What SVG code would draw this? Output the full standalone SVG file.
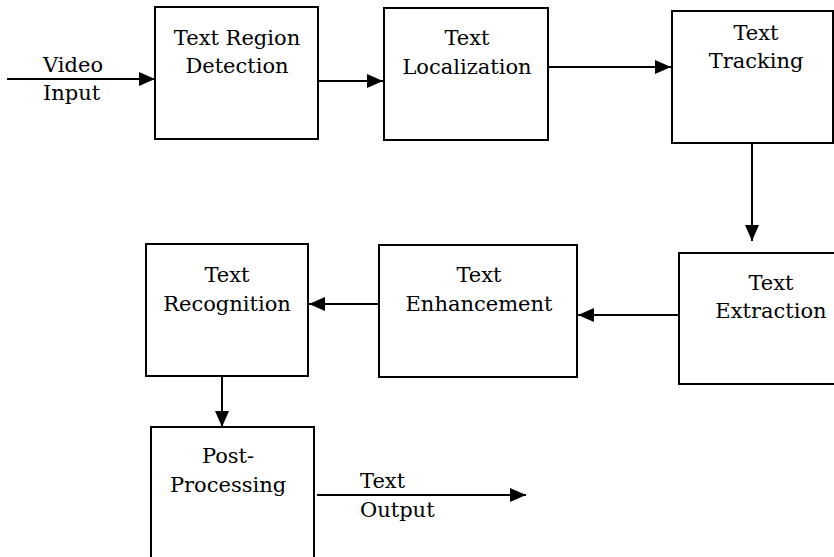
<svg xmlns="http://www.w3.org/2000/svg" width="834" height="557" viewBox="0 0 834 557">
<defs>
<marker id="ah" markerWidth="16" markerHeight="14" refX="16" refY="7" orient="auto" markerUnits="userSpaceOnUse">
<path d="M0,0 L16,7 L0,14 Z" fill="#000"/>
</marker>
<style>
.box{fill:#fff;stroke:#000;stroke-width:2}
text{font-family:'DejaVu Serif','Liberation Serif',serif;font-size:21px;fill:#000}
.lbl{text-anchor:middle}
.c{stroke:#000;stroke-width:2;fill:none;marker-end:url(#ah)}
</style>
</defs>
<rect width="834" height="557" fill="#fff"/>
<g id="n1"><rect class="box" x="155" y="7" width="163" height="132"/><text class="lbl" x="237" y="45">Text Region</text><text class="lbl" x="237" y="73">Detection</text></g>
<g id="n2"><rect class="box" x="384" y="8" width="164" height="132"/><text class="lbl" x="467" y="45">Text</text><text class="lbl" x="467" y="74">Localization</text></g>
<g id="n3"><rect class="box" x="672" y="11" width="161" height="132"/><text class="lbl" x="756" y="40">Text</text><text class="lbl" x="756" y="68">Tracking</text></g>
<g id="n4"><rect class="box" x="679" y="253" width="160" height="131"/><text class="lbl" x="771" y="290">Text</text><text class="lbl" x="771" y="318">Extraction</text></g>
<g id="n5"><rect class="box" x="379" y="245" width="198" height="132"/><text class="lbl" x="479" y="282">Text</text><text class="lbl" x="479" y="311">Enhancement</text></g>
<g id="n6"><rect class="box" x="146" y="244" width="162" height="132"/><text class="lbl" x="227" y="282">Text</text><text class="lbl" x="227" y="311">Recognition</text></g>
<g id="n7"><rect class="box" x="151" y="427" width="163" height="140"/><text class="lbl" x="228" y="463">Post-</text><text class="lbl" x="228" y="492">Processing</text></g>
<g id="connectors">
<line class="c" x1="7" y1="79" x2="155" y2="79"/>
<line class="c" x1="318" y1="81" x2="383" y2="81"/>
<line class="c" x1="548" y1="67" x2="671" y2="67"/>
<line class="c" x1="752" y1="143" x2="752" y2="241"/>
<line class="c" x1="679" y1="315" x2="578" y2="315"/>
<line class="c" x1="379" y1="304" x2="309" y2="304"/>
<line class="c" x1="222" y1="376" x2="222" y2="427"/>
<line class="c" x1="317" y1="495" x2="526" y2="495"/>
<text x="43" y="72">Video</text>
<text x="43" y="100">Input</text>
<text x="360" y="488">Text</text>
<text x="360" y="517">Output</text>
</g>
</svg>
